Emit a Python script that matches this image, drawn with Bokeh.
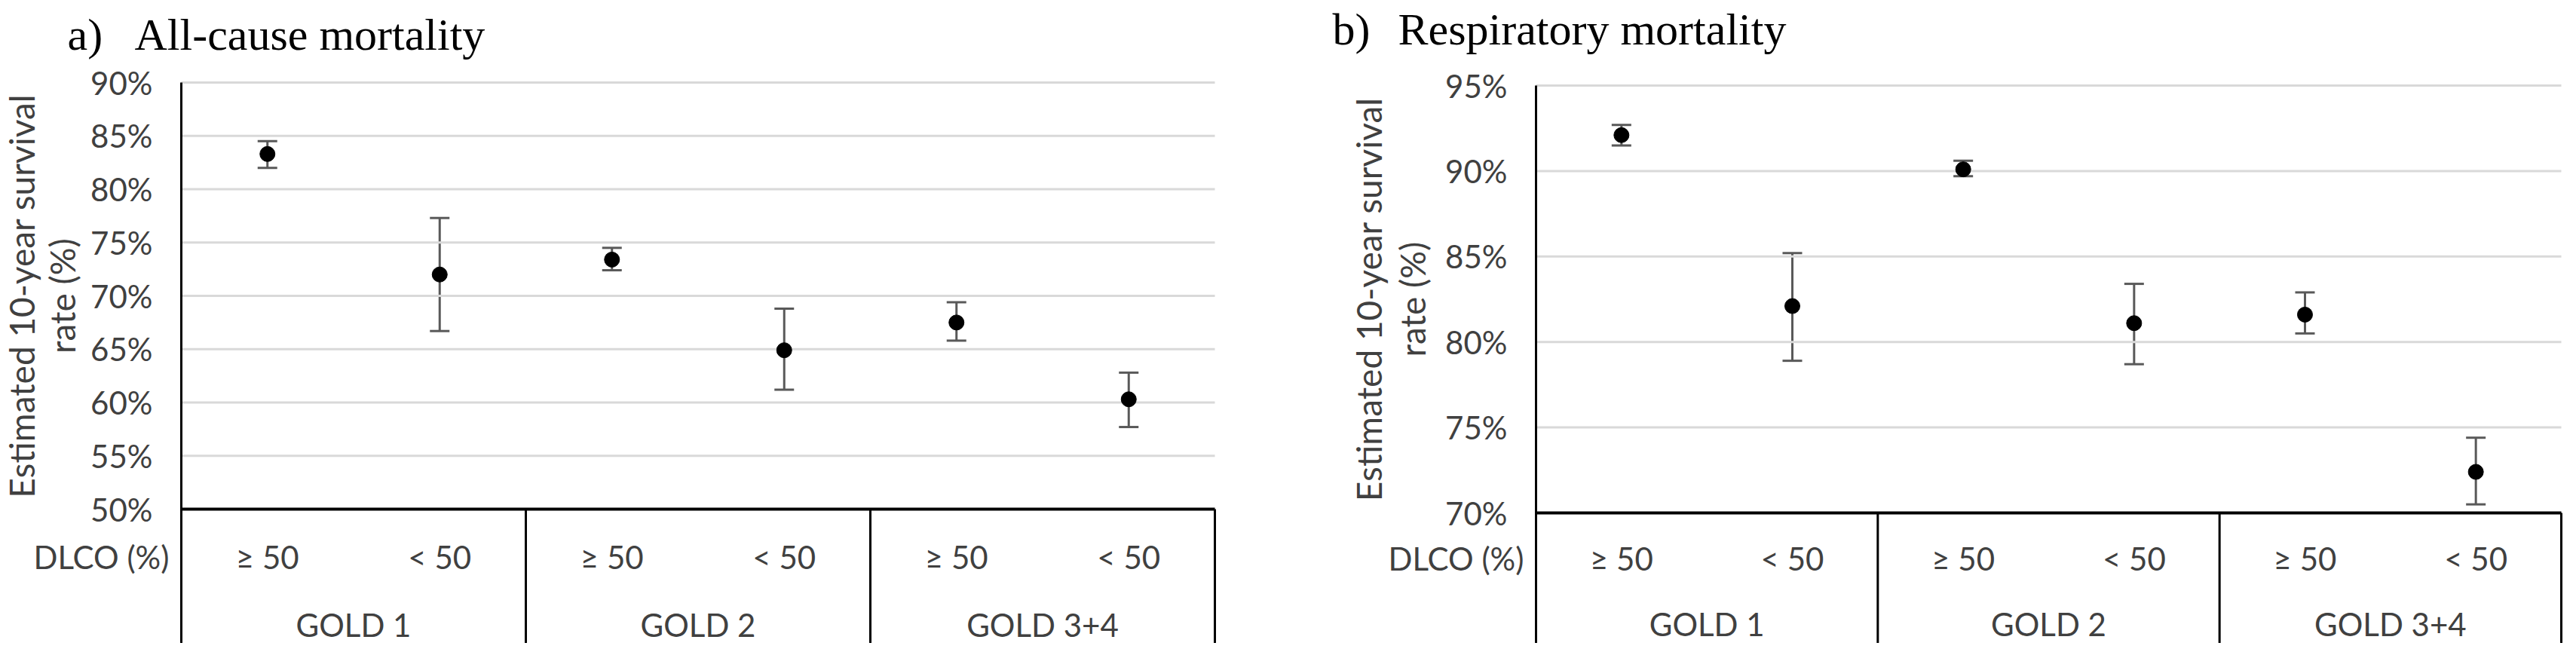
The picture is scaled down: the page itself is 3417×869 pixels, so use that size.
import numpy as np
from bokeh.plotting import figure
from bokeh.models import (Range1d, FixedTicker, PrintfTickFormatter, LinearAxis,
                          Whisker, TeeHead, ColumnDataSource)
from bokeh.layouts import row
from bokeh.embed import file_html
from bokeh.resources import INLINE
from bokeh.core.properties import value

# ---------------- data ----------------
groups = ["GOLD 1", "GOLD 2", "GOLD 3+4"]
dlco_levels = ["≥ 50", "< 50"]
dlco_title = "DLCO (%)"
ylabel_lines = ["Estimated 10-year survival", "rate (%)"]

a_letter = "a)"
a_title = "All-cause mortality"
a_ticks = [50, 55, 60, 65, 70, 75, 80, 85, 90]
a_est = [83.3, 72.0, 73.4, 64.9, 67.5, 60.3]
a_lo = [82.0, 66.7, 72.4, 61.2, 65.8, 57.7]
a_hi = [84.5, 77.3, 74.5, 68.8, 69.4, 62.8]

b_letter = "b)"
b_title = "Respiratory mortality"
b_ticks = [70, 75, 80, 85, 90, 95]
b_est = [92.1, 82.1, 90.1, 81.1, 81.6, 72.4]
b_lo = [91.5, 78.9, 89.7, 78.7, 80.5, 70.5]
b_hi = [92.7, 85.2, 90.6, 83.4, 82.9, 74.4]

SANS = "Lato"
SERIF = "Liberation Serif"
TXT = "#404040"
H = 853


def panel(width, left_px, plot_w, top_px, plot_h, ticks, est, lo, hi, letter, title,
          letter_dx, title_dx, title_dy, ylab_dx, row_dy):
    n = len(est)
    ng = len(groups)
    per = n // ng
    xu = plot_w / n                       # px per category
    yu = plot_h / (ticks[-1] - ticks[0])  # px per percent
    x0 = -left_px / xu
    x1 = (width - left_px) / xu
    ytop = ticks[-1] + top_px / yu
    ybot = ticks[0] - (H - top_px - plot_h) / yu
    p = figure(width=width, height=H, x_range=Range1d(x0, x1), y_range=Range1d(ybot, ytop),
               output_backend="svg", toolbar_location=None, min_border=0,
               x_axis_location=None, y_axis_location=None)
    p.outline_line_color = None
    p.background_fill_color = "white"
    p.border_fill_color = "white"
    p.grid.visible = False

    ax = LinearAxis(fixed_location=0, bounds=(ybot, ticks[-1]),
                    ticker=FixedTicker(ticks=ticks),
                    formatter=PrintfTickFormatter(format="%d%%"))
    ax.axis_line_color = "black"
    ax.axis_line_width = 3
    ax.major_tick_out = 0
    ax.major_tick_in = 0
    ax.minor_tick_line_color = None
    ax.major_label_standoff = 38
    ax.major_label_text_font = SANS
    ax.major_label_text_font_size = "42px"
    ax.major_label_text_color = TXT
    p.add_layout(ax, "left")

    # horizontal gridlines over the category span
    p.segment(x0=[0] * len(ticks), x1=[n] * len(ticks), y0=ticks, y1=ticks,
              line_color="#d9d9d9", line_width=3)

    xc = np.arange(n) + 0.5
    base = ticks[0]
    p.segment(x0=[0], x1=[n], y0=[base], y1=[base], line_color="black", line_width=4)
    bounds = np.arange(per, n + 1, per)
    p.segment(x0=bounds, x1=bounds, y0=[base] * len(bounds), y1=[ybot] * len(bounds),
              line_color="black", line_width=3)

    src = ColumnDataSource(dict(x=xc, est=est, lo=lo, hi=hi))
    p.add_layout(Whisker(base="x", upper="hi", lower="lo", source=src,
                         line_color="#595959", line_width=3,
                         upper_head=TeeHead(size=26, line_color="#595959", line_width=3),
                         lower_head=TeeHead(size=26, line_color="#595959", line_width=3)))
    p.scatter("x", "est", source=src, size=20, color="black")

    font = dict(text_font=value(SANS), text_font_size="42px", text_color=TXT)
    sub = [dlco_levels[i % per] for i in range(n)]
    p.text(x=xc, y=[base] * n, text=sub, text_align="center", text_baseline="middle",
           y_offset=row_dy[0], **font)
    gc = np.arange(ng) * per + per / 2
    p.text(x=gc, y=[base] * ng, text=groups, text_align="center", text_baseline="middle",
           y_offset=row_dy[1], **font)
    p.text(x=[0], y=[base], text=[dlco_title], text_align="right", text_baseline="middle",
           x_offset=-16, y_offset=row_dy[0], **font)

    # panel title
    for txt, dx in ((letter, letter_dx), (title, title_dx)):
        p.text(x=[0], y=[ticks[-1]], text=[txt], x_offset=dx, y_offset=title_dy,
               text_font=value(SERIF), text_font_size="60px", text_color="black",
               text_align="left", text_baseline="alphabetic")
    # y axis title (two lines)
    ymid = (ticks[0] + ticks[-1]) / 2
    for txt, dx in zip(ylabel_lines, ylab_dx):
        p.text(x=[0], y=[ymid], text=[txt], x_offset=dx, angle=np.pi / 2,
               text_font=value(SANS), text_font_size="46px", text_color=TXT,
               text_align="center", text_baseline="middle")
    return p


pa = panel(1700, 240, 1371, 109, 566, a_ticks, a_est, a_lo, a_hi, a_letter, a_title,
           -151, -62, -64, [-212, -158], (63, 153))
pb = panel(1701, 337, 1360, 113, 567, b_ticks, b_est, b_lo, b_hi, b_letter, b_title,
           -270, -183, -75, [-222, -164], (60, 147))

layout = row(pa, pb)
open("out.html", "w").write(file_html(layout, INLINE))
